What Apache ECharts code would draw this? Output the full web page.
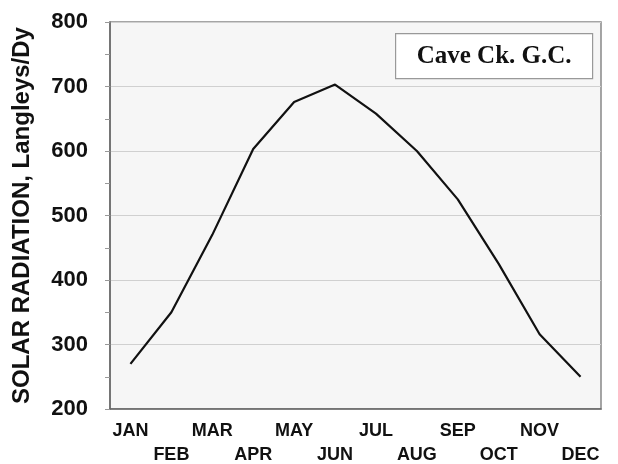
<!DOCTYPE html>
<html>
<head>
<meta charset="utf-8">
<script src="https://cdn.jsdelivr.net/npm/echarts@6/dist/echarts.min.js"></script>
<style>
  html, body { margin: 0; padding: 0; background: #fff; }
  #chart-main { width: 618px; height: 464px; }
</style>
</head>
<body>
<div id="chart-main"></div>
<script>
  const months = ['JAN', 'FEB', 'MAR', 'APR', 'MAY', 'JUN', 'JUL', 'AUG', 'SEP', 'OCT', 'NOV', 'DEC'];
  const radiation = [270, 350, 470, 603, 676, 703, 658, 600, 525, 425, 316, 250];
  const yTicks = [200, 300, 400, 500, 600, 700, 800];
  const stationName = 'Cave Ck. G.C.';
  const yTitle = 'SOLAR RADIATION, Langleys/Dy';

  let chart = echarts.init(document.getElementById('chart-main'));
  chart.setOption({
    animation: false,
    backgroundColor: '#fff',
    grid: {
      left: 110,
      right: 17,
      top: 22,
      bottom: 55,
      outerBoundsMode: 'none',
      containLabel: false,
      show: true,
      backgroundColor: '#f6f6f6',
      borderColor: '#888',
      borderWidth: 1.5
    },
    xAxis: {
      type: 'category',
      data: months,
      boundaryGap: true,
      axisLine: { lineStyle: { color: '#666', width: 1.5 } },
      axisTick: { alignWithLabel: true, length: 5, lineStyle: { color: '#aaa' } },
      splitLine: { show: false },
      axisLabel: {
        interval: 0,
        margin: 10,
        color: '#111',
        fontFamily: 'Liberation Sans',
        fontWeight: 'bold',
        fontSize: 18,
        lineHeight: 24,
        formatter: (v, i) => (i % 2 ? '\n' + v : v)
      }
    },
    yAxis: {
      type: 'value',
      min: yTicks[0],
      max: yTicks[yTicks.length - 1],
      interval: 100,
      name: yTitle,
      nameLocation: 'middle',
      nameGap: 76,
      nameTextStyle: {
        color: '#111',
        fontFamily: 'Liberation Sans',
        fontWeight: 'bold',
        fontSize: 24
      },
      axisLine: { show: true, lineStyle: { color: '#666', width: 1.5 } },
      axisTick: { show: true, length: 5, lineStyle: { color: '#999' } },
      minorTick: { show: true, splitNumber: 2, length: 5, lineStyle: { color: '#999' } },
      splitLine: { show: true, lineStyle: { color: '#d0d0d0', width: 1.2 } },
      axisLabel: {
        margin: 22,
        color: '#111',
        fontFamily: 'Liberation Sans',
        fontWeight: 'bold',
        fontSize: 22
      }
    },
    graphic: [
      {
        type: 'group',
        left: 395,
        top: 33,
        children: [
          {
            type: 'rect',
            shape: { x: 0, y: 0, width: 197, height: 45 },
            style: { fill: '#fff', stroke: '#999', lineWidth: 1.2 }
          },
          {
            type: 'text',
            x: 98.5,
            y: 23,
            style: {
              text: stationName,
              align: 'center',
              verticalAlign: 'middle',
              fill: '#111',
              font: 'bold 25px "Liberation Serif"'
            }
          }
        ]
      }
    ],
    series: [
      {
        type: 'line',
        data: radiation,
        symbol: 'none',
        lineStyle: { color: '#111', width: 2.2 }
      }
    ]
  });
</script>
</body>
</html>
